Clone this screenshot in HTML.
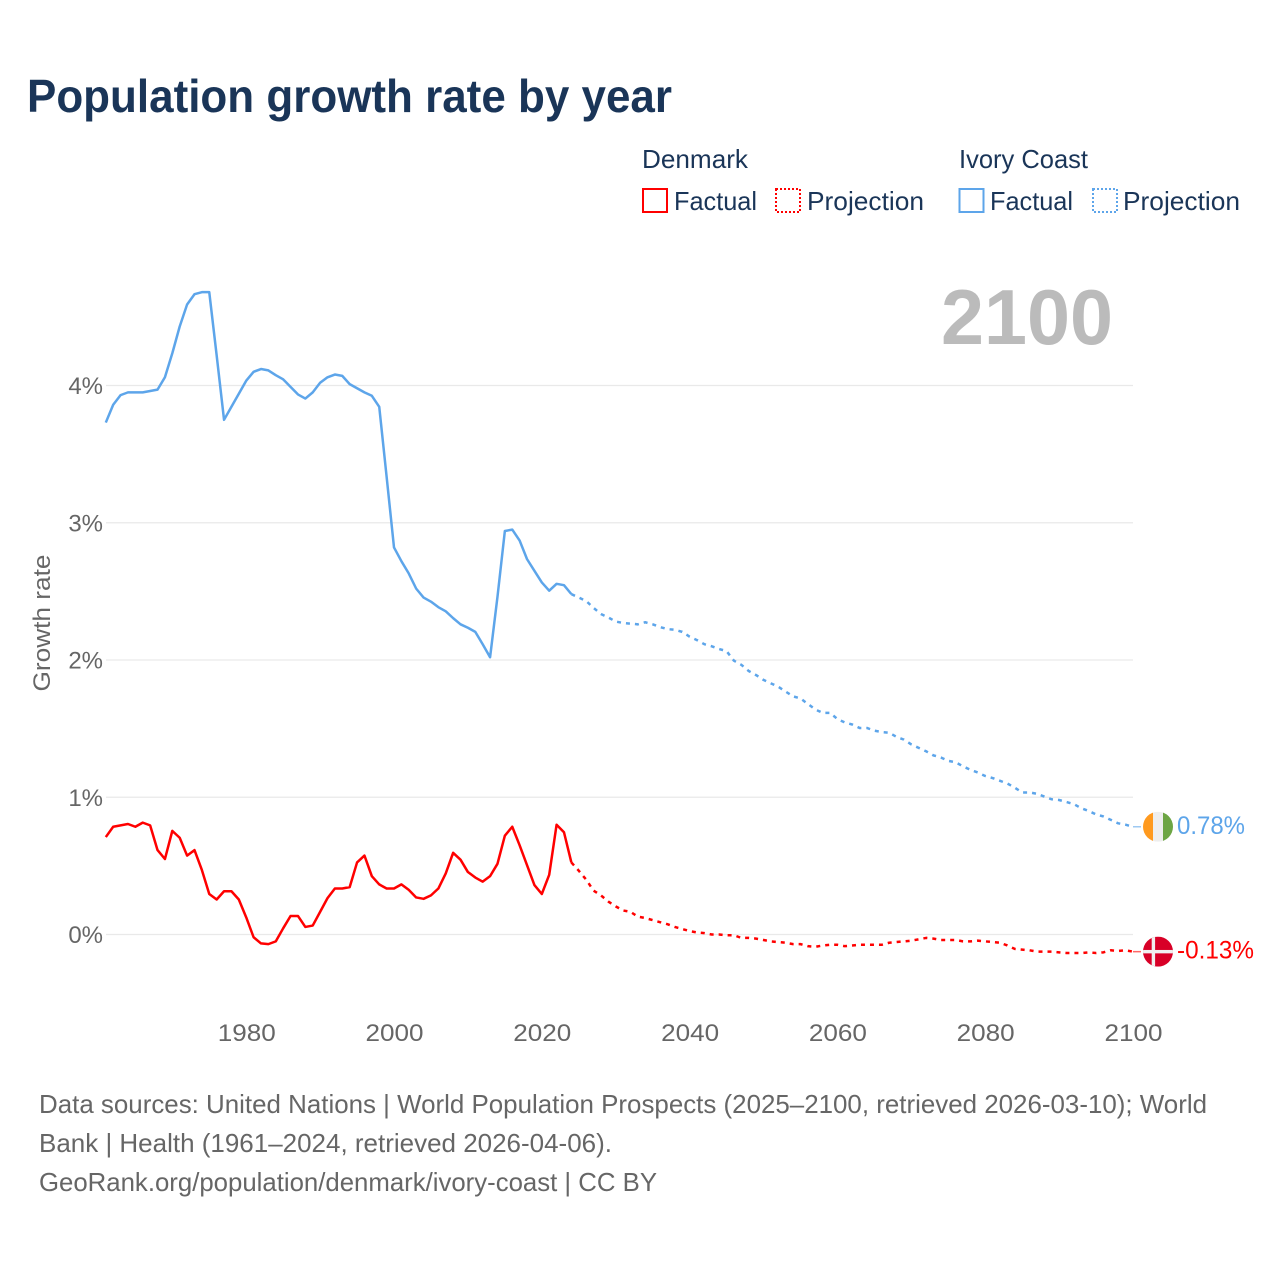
<!DOCTYPE html>
<html lang="en">
<head>
<meta charset="utf-8">
<title>Population growth rate by year</title>
<style>
html,body{margin:0;padding:0;background:#fff}
svg{display:block}
text{font-family:"Liberation Sans",sans-serif}
</style>
</head>
<body>
<svg id="chart" xmlns="http://www.w3.org/2000/svg" width="1280" height="1280" viewBox="0 0 1280 1280">
  <rect x="0" y="0" width="1280" height="1280" fill="#ffffff"/>
  <text x="27" y="112" font-size="46" font-weight="700" fill="#1a3558" textLength="645" lengthAdjust="spacingAndGlyphs">Population growth rate by year</text>

  <g font-size="26" fill="#1a3558">
    <text x="642" y="168" textLength="106" lengthAdjust="spacingAndGlyphs">Denmark</text>
    <text x="959" y="168" textLength="129" lengthAdjust="spacingAndGlyphs">Ivory Coast</text>
    <rect x="643" y="189" width="24" height="23" fill="none" stroke="#ff0000" stroke-width="2"/>
    <text x="674" y="210" textLength="83" lengthAdjust="spacingAndGlyphs">Factual</text>
    <rect x="776" y="189" width="24" height="23" fill="none" stroke="#ff0000" stroke-width="2" stroke-dasharray="2 2"/>
    <text x="807" y="210" textLength="117" lengthAdjust="spacingAndGlyphs">Projection</text>
    <rect x="959.500" y="189" width="24" height="23" fill="none" stroke="#5da5ea" stroke-width="2"/>
    <text x="990" y="210" textLength="83" lengthAdjust="spacingAndGlyphs">Factual</text>
    <rect x="1093" y="189" width="24" height="23" fill="none" stroke="#5da5ea" stroke-width="2" stroke-dasharray="2 2"/>
    <text x="1123" y="210" textLength="117" lengthAdjust="spacingAndGlyphs">Projection</text>
  </g>

  <g id="grid"></g>
  <g id="yticks" font-size="24" fill="#666666" text-anchor="end"></g>
  <g id="xticks" font-size="24" fill="#666666"></g>
  <text transform="translate(50 623) rotate(-90)" font-size="24" fill="#666666" text-anchor="middle" textLength="137" lengthAdjust="spacingAndGlyphs">Growth rate</text>

  <text x="941" y="344" font-size="78" font-weight="700" fill="#bbbbbb" textLength="172" lengthAdjust="spacingAndGlyphs">2100</text>

  <g id="lines" fill="none" stroke-width="2.5" stroke-linejoin="round"></g>
  <g id="flags"></g>

  <g font-size="26" fill="#666666">
    <text x="39" y="1113" textLength="1168" lengthAdjust="spacingAndGlyphs">Data sources: United Nations | World Population Prospects (2025–2100, retrieved 2026-03-10); World</text>
    <text x="39" y="1152" textLength="573" lengthAdjust="spacingAndGlyphs">Bank | Health (1961–2024, retrieved 2026-04-06).</text>
    <text x="39" y="1191" textLength="618" lengthAdjust="spacingAndGlyphs">GeoRank.org/population/denmark/ivory-coast | CC BY</text>
  </g>
</svg>
<script>
const factualStartYear = 1961;
const projectionStartYear = 2024;
const yTickValues = [0, 1, 2, 3, 4];
const yTickLabels = ["0%", "1%", "2%", "3%", "4%"];
const xTickYears = [1980, 2000, 2020, 2040, 2060, 2080, 2100];
const xTickLabels = ["1980", "2000", "2020", "2040", "2060", "2080", "2100"];

const ivoryFactual = [3.73,3.86,3.93,3.95,3.95,3.95,3.96,3.97,4.06,4.235,4.43,4.59,4.665,4.68,4.68,4.22,3.75,3.845,3.94,4.035,4.10,4.12,4.11,4.075,4.045,3.99,3.935,3.905,3.95,4.02,4.06,4.08,4.07,4.01,3.98,3.95,3.925,3.845,3.335,2.82,2.72,2.63,2.52,2.455,2.425,2.385,2.355,2.305,2.26,2.235,2.205,2.115,2.02,2.46,2.94,2.95,2.87,2.735,2.65,2.565,2.505,2.555,2.545,2.48];
const ivoryProjection = [2.48,2.455,2.43,2.38,2.335,2.31,2.28,2.27,2.265,2.26,2.275,2.26,2.24,2.225,2.22,2.205,2.17,2.145,2.115,2.10,2.08,2.065,1.995,1.965,1.92,1.89,1.855,1.83,1.805,1.77,1.735,1.72,1.68,1.64,1.615,1.615,1.57,1.545,1.53,1.505,1.505,1.485,1.475,1.47,1.44,1.42,1.385,1.36,1.335,1.305,1.29,1.265,1.255,1.225,1.2,1.18,1.155,1.14,1.12,1.10,1.07,1.035,1.035,1.025,1.005,0.985,0.98,0.965,0.95,0.92,0.90,0.875,0.86,0.835,0.81,0.80,0.785];
const denmarkFactual = [0.71,0.785,0.795,0.805,0.785,0.815,0.795,0.615,0.55,0.755,0.705,0.575,0.615,0.47,0.295,0.255,0.315,0.315,0.255,0.125,-0.02,-0.065,-0.07,-0.05,0.045,0.135,0.135,0.055,0.065,0.165,0.265,0.335,0.335,0.345,0.525,0.575,0.425,0.365,0.335,0.335,0.365,0.325,0.27,0.26,0.285,0.335,0.445,0.595,0.545,0.455,0.415,0.385,0.425,0.515,0.72,0.785,0.65,0.505,0.36,0.295,0.435,0.80,0.745,0.525];
const denmarkProjection = [0.525,0.465,0.40,0.32,0.285,0.24,0.205,0.175,0.165,0.13,0.12,0.105,0.09,0.075,0.055,0.04,0.025,0.015,0.01,0.0,0.0,-0.005,-0.005,-0.025,-0.025,-0.03,-0.04,-0.05,-0.055,-0.06,-0.07,-0.07,-0.085,-0.09,-0.08,-0.075,-0.075,-0.085,-0.08,-0.075,-0.075,-0.075,-0.075,-0.06,-0.055,-0.05,-0.045,-0.035,-0.025,-0.03,-0.04,-0.04,-0.04,-0.05,-0.05,-0.045,-0.05,-0.055,-0.06,-0.08,-0.105,-0.11,-0.115,-0.125,-0.125,-0.125,-0.13,-0.135,-0.135,-0.135,-0.13,-0.135,-0.13,-0.115,-0.12,-0.115,-0.125];
const endLabels = ["0.78%", "-0.13%"];

const NS = "http://www.w3.org/2000/svg";
function xScale(year) { return 105.8 + (year - 1961) * (1133 - 105.8) / (2100 - 1961); }
function yScale(v) { return 934.5 - v * 137.25; }
function make(tag, parent) {
  const el = document.createElementNS(NS, tag);
  parent.appendChild(el);
  return el;
}
function buildPath(values, startYear) {
  return values.map(function (v, i) {
    return (i ? "L" : "M") + xScale(startYear + i).toFixed(2) + " " + yScale(v).toFixed(2);
  }).join("");
}

const gridGroup = document.getElementById("grid");
const yTickGroup = document.getElementById("yticks");
yTickValues.forEach(function (v, i) {
  const line = make("line", gridGroup);
  
  
  line.setAttribute("x1", 106);
  line.setAttribute("x2", 1133);
  line.setAttribute("y1", yScale(v));
  line.setAttribute("y2", yScale(v));
  line.setAttribute("stroke", "#e9e9e9");
  line.setAttribute("stroke-width", "1.2");
  const t = make("text", yTickGroup);
  
  
  t.setAttribute("x", 103);
  t.setAttribute("y", yScale(v) + 8.5);
  t.textContent = yTickLabels[i];
});

const xTickGroup = document.getElementById("xticks");
xTickYears.forEach(function (year, i) {
  const t = make("text", xTickGroup);
  
  
  t.setAttribute("x", xScale(year) - 28.5);
  t.setAttribute("y", 1041);
  t.setAttribute("textLength", 58);
  t.setAttribute("lengthAdjust", "spacingAndGlyphs");
  t.textContent = xTickLabels[i];
});

const lineGroup = document.getElementById("lines");
function addLine(values, startYear, color, dashed) {
  const p = make("path", lineGroup);
  
  
  p.setAttribute("d", buildPath(values, startYear));
  p.setAttribute("stroke", color);
  if (dashed) p.setAttribute("stroke-dasharray", "4 5");
}
addLine(denmarkFactual, factualStartYear, "#ff0000", false);
addLine(denmarkProjection, projectionStartYear, "#ff0000", true);
addLine(ivoryFactual, factualStartYear, "#5da5ea", false);
addLine(ivoryProjection, projectionStartYear, "#5da5ea", true);

const flagGroup = document.getElementById("flags");
function addEnd(values, color, labelText, kind) {
  const last = values[values.length - 1];
  const y = yScale(last);
  const x0 = xScale(2100);
  const stub = make("line", flagGroup);
  
  
  stub.setAttribute("x1", x0);
  stub.setAttribute("x2", x0 + 8);
  stub.setAttribute("y1", y);
  stub.setAttribute("y2", y);
  stub.setAttribute("stroke", color);
  stub.setAttribute("stroke-width", "1.5");
  stub.setAttribute("stroke-opacity", "0.6");

  const g = make("g", flagGroup);
  
  
  g.setAttribute("transform", "translate(1158 " + y.toFixed(2) + ")");
  const clipId = "clip-" + kind;
  const clip = make("clipPath", g);
  clip.setAttribute("id", clipId);
  const cc = make("circle", clip);
  cc.setAttribute("r", 15);
  const stage = make("g", g);
  stage.setAttribute("clip-path", "url(#" + clipId + ")");
  function rect(x, yy, w, h, fill) {
    const r = make("rect", stage);
    r.setAttribute("x", x);
    r.setAttribute("y", yy);
    r.setAttribute("width", w);
    r.setAttribute("height", h);
    r.setAttribute("fill", fill);
  }
  if (kind === "ivory") {
    rect(-15, -15, 10, 30, "#ff9a1f");
    rect(-5, -15, 10, 30, "#eeeeee");
    rect(5, -15, 10, 30, "#6da544");
  } else {
    rect(-15, -15, 30, 30, "#d80027");
    rect(-15, -1.7, 30, 3.4, "#f0f0f0");
    rect(-6.3, -15, 3.4, 30, "#f0f0f0");
  }
  const t = make("text", flagGroup);
  
  
  t.setAttribute("x", 1177);
  t.setAttribute("y", y + 7);
  t.setAttribute("font-size", "25");
  t.setAttribute("fill", color);
  t.setAttribute("textLength", labelText.length === 5 ? 68 : 77);
  t.setAttribute("lengthAdjust", "spacingAndGlyphs");
  t.textContent = labelText;
}
addEnd(ivoryProjection, "#5da5ea", endLabels[0], "ivory");
addEnd(denmarkProjection, "#ff0000", endLabels[1], "denmark");
</script>
</body>
</html>
